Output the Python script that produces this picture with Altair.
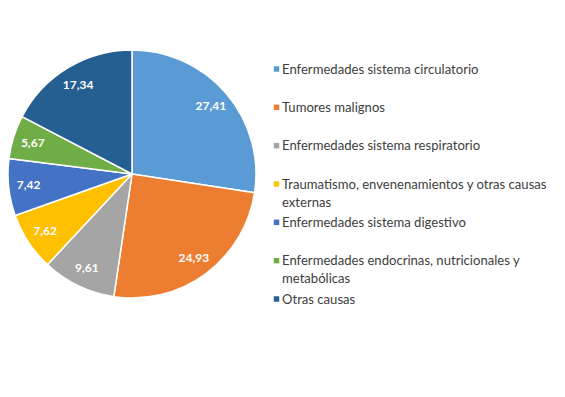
import altair as alt
import pandas as pd

categories = [
    "Enfermedades sistema circulatorio",
    "Tumores malignos",
    "Enfermedades sistema respiratorio",
    "Traumatismo, envenenamientos y otras causas externas",
    "Enfermedades sistema digestivo",
    "Enfermedades endocrinas, nutricionales y metabólicas",
    "Otras causas",
]
legend_labels = [
    "Enfermedades sistema circulatorio",
    "Tumores malignos",
    "Enfermedades sistema respiratorio",
    "Traumatismo, envenenamientos y otras causas\nexternas",
    "Enfermedades sistema digestivo",
    "Enfermedades endocrinas, nutricionales y\nmetabólicas",
    "Otras causas",
]
values = [27.41, 24.93, 9.61, 7.62, 7.42, 5.67, 17.34]
value_labels = ["27,41", "24,93", "9,61", "7,62", "7,42", "5,67", "17,34"]
colors = ["#5B9BD5", "#ED7D31", "#A5A5A5", "#FFC000", "#4472C4", "#70AD47", "#255E91"]

df = pd.DataFrame({
    "cat": categories,
    "legend": legend_labels,
    "value": values,
    "label": value_labels,
    "idx": list(range(len(categories))),
})

color_scale = alt.Scale(domain=categories, range=colors)

# pie placement (layout only)
CX, CY = 124, 166

pie_base = alt.Chart(df).encode(
    theta=alt.Theta("value:Q", stack=True),
    order=alt.Order("idx:Q"),
    x=alt.value(CX),
    y=alt.value(CY),
)
arcs = pie_base.mark_arc(outerRadius=124, stroke="white", strokeWidth=1.5).encode(
    color=alt.Color("cat:N", scale=color_scale, legend=None)
)
texts = pie_base.mark_text(
    radius=104, font="Lato", fontSize=12, fontWeight="bold", color="white"
).encode(text="label:N")

leg_base = alt.Chart(df).encode(
    y=alt.Y("cat:N", scale=alt.Scale(type="point", domain=categories, range=[61, 291], padding=0), axis=None)
)
markers = leg_base.mark_square(size=30, opacity=1).encode(
    x=alt.value(268.5),
    color=alt.Color("cat:N", scale=color_scale, legend=None),
)
leg_text = leg_base.mark_text(
    align="left", baseline="alphabetic", dy=4.5, lineBreak="\n", lineHeight=18,
    font="Lato", fontSize=13.1, color="#404040",
).encode(x=alt.value(274), text="legend:N")

chart = alt.layer(arcs, texts, markers, leg_text).properties(
    width=549, height=381, padding=0, autosize=alt.AutoSizeParams(type="none")
).configure_view(stroke=None)

chart.save("out.html", embed_options={"renderer": "svg", "actions": False})
